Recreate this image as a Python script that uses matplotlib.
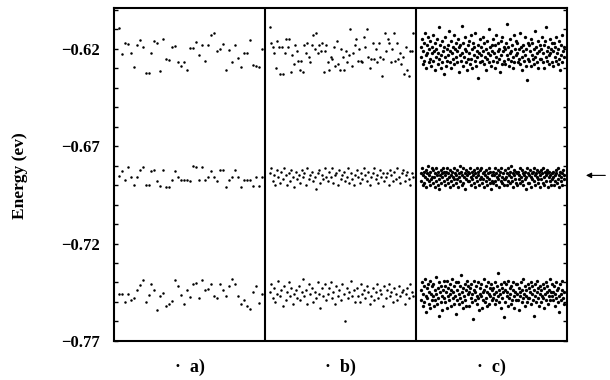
import numpy as np
import matplotlib
matplotlib.use("Agg")
import matplotlib.pyplot as plt

plt.rcParams['font.family'] = ['Liberation Serif', 'DejaVu Serif']
plt.rcParams['font.weight'] = 'bold'

# energies, in meV (plotted in eV)
panel_labels = ["\u00b7  a)", "\u00b7  b)", "\u00b7  c)"]
yticks = [-0.77, -0.72, -0.67, -0.62]

a_top = [-609.4, -622.6, -617.1, -617.4, -622.2, -629.1, -617.9, -615.4, -619.1, -632.5,
         -632.5, -622.2, -616.1, -617.1, -631.6, -614.9, -625.0, -625.6, -619.3, -618.5,
         -627.0, -628.7, -626.5, -630.8, -619.7, -619.7, -616.6, -623.1, -618.1, -626.2,
         -618.1, -613.0, -611.8, -621.2, -620.2, -617.6, -630.8, -620.5, -627.0, -617.9,
         -624.8, -629.4, -621.9, -621.9, -615.7, -628.2, -628.7, -629.4, -620.2]
a_mid = [-685.5, -682.5, -687.3, -680.5, -685.6, -689.7, -685.6, -682.2, -680.8, -690.1,
         -689.7, -682.5, -682.4, -687.7, -690.4, -682.4, -690.8, -690.8, -687.2, -682.5,
         -685.6, -687.3, -687.3, -687.3, -687.7, -680.3, -680.8, -687.3, -680.8, -687.3,
         -685.6, -682.5, -685.6, -687.7, -682.4, -682.4, -690.8, -687.3, -685.6, -682.4,
         -685.6, -690.8, -687.3, -687.3, -687.3, -690.4, -685.6, -690.4, -685.6]
a_bot = [-745.8, -745.8, -749.9, -745.8, -749.0, -747.8, -743.7, -741.3, -738.5, -750.2,
         -746.6, -740.6, -743.7, -754.3, -747.0, -745.4, -751.9, -751.3, -749.5, -738.9,
         -742.0, -746.6, -750.9, -743.7, -747.5, -740.6, -740.3, -747.8, -738.9, -743.7,
         -743.2, -741.0, -746.8, -748.2, -740.6, -743.7, -747.0, -742.0, -738.0, -741.0,
         -747.0, -750.9, -749.2, -752.3, -753.5, -744.7, -742.0, -750.6, -745.8]

b_top = [-609, -617, -619, -622, -630, -616, -619, -633, -619, -633, -622, -615, -619, -615,
         -632, -623, -628, -618, -621, -626, -631, -626, -632, -618, -622, -617, -624, -627,
         -618, -613, -620, -612, -622, -618, -621, -617, -632, -621, -618, -627, -631, -624,
         -625, -619, -629, -616, -628, -631, -620, -624, -631, -621, -627, -623, -610, -629,
         -622, -618, -615, -626, -620, -626, -627, -614, -619, -610, -624, -630, -625, -617,
         -625, -620, -627, -617, -624, -634, -625, -612, -621, -615, -617, -627, -620, -612,
         -626, -617, -625, -622, -628, -624, -633, -619, -631, -634, -621, -621, -612]
b_mid = [-684, -681, -688, -685, -690, -682, -686, -689, -683, -687, -681, -685, -690, -684,
         -688, -682, -686, -691, -683, -687, -685, -689, -682, -686, -684, -690, -681, -687,
         -685, -683, -688, -686, -692, -684, -682, -689, -685, -687, -681, -686, -688, -683,
         -686, -681, -689, -685, -684, -690, -682, -687, -685, -683, -688, -686, -681, -689,
         -684, -687, -690, -685, -682, -686, -689, -684, -687, -681, -685, -688, -683, -690,
         -686, -684, -681, -687, -685, -689, -682, -686, -684, -688, -686, -684, -690, -682,
         -685, -688, -683, -687, -681, -686, -689, -684, -682, -688, -685, -683, -687, -690,
         -684, -686]
b_bot = [-745, -741, -748, -743, -750, -746, -739, -747, -744, -752, -742, -749, -745, -740,
         -747, -743, -751, -746, -744, -748, -742, -749, -745, -738, -747, -744, -751, -741,
         -746, -743, -750, -745, -748, -740, -746, -753, -743, -747, -741, -749, -746, -743,
         -740, -748, -745, -751, -742, -747, -744, -749, -741, -746, -760, -743, -748, -745,
         -739, -747, -744, -750, -743, -747, -750, -741, -746, -744, -748, -742, -745, -751,
         -747, -743, -749, -745, -741, -748, -744, -746, -752, -742, -748, -744, -741, -747,
         -745, -750, -743, -746, -749, -742, -747, -745, -744, -751, -746, -743, -748, -741,
         -745, -747]

c_top = [-619, -624, -615, -628, -621, -617, -626, -612, -623, -630, -618, -622, -614, -627, -620, -625, -616, -629, -622, -619,
         -613, -626, -621, -631, -617, -624, -620, -615, -628, -622, -609, -625, -618, -630, -623, -616, -627, -621, -633, -619,
         -624, -614, -629, -620, -626, -618, -623, -611, -627, -621, -616, -630, -622, -619, -625, -613, -628, -620, -624, -617,
         -621, -627, -615, -632, -619, -623, -618, -626, -608, -622, -629, -617, -624, -620, -614, -627, -621, -631, -618, -625,
         -616, -622, -628, -613, -625, -620, -630, -617, -623, -619, -626, -612, -629, -621, -624, -635, -618, -622, -615, -627,
         -623, -619, -626, -614, -621, -628, -617, -624, -620, -631, -616, -625, -622, -610, -627, -619, -623, -629, -618, -621,
         -626, -615, -622, -630, -618, -624, -613, -627, -621, -617, -625, -620, -632, -616, -623, -628, -614, -621, -626, -619,
         -620, -628, -617, -623, -607, -625, -619, -629, -622, -615, -626, -621, -618, -630, -624, -613, -627, -620, -623, -616,
         -622, -617, -627, -620, -625, -612, -628, -619, -624, -631, -618, -621, -626, -614, -623, -629, -620, -636, -617, -625,
         -618, -626, -621, -615, -629, -623, -617, -625, -620, -628, -611, -624, -619, -627, -622, -616, -630, -621, -625, -618,
         -625, -620, -614, -627, -622, -618, -630, -616, -624, -609, -621, -626, -619, -623, -628, -615, -622, -620, -627, -617,
         -621, -629, -617, -624, -619, -626, -614, -622, -628, -620, -625, -616, -631, -618, -623, -613, -627, -621, -624, -619]
c_mid = [-684, -688, -681, -690, -685, -683, -689, -686, -682, -691, -687, -684, -680, -688, -685, -690, -683, -687, -681, -686,
         -689, -682, -686, -691, -684, -688, -681, -685, -690, -683, -687, -692, -685, -682, -689, -684, -686, -681, -688, -683,
         -685, -690, -683, -687, -681, -689, -684, -686, -691, -682, -688, -685, -683, -690, -686, -681, -687, -684, -689, -685,
         -682, -687, -691, -684, -686, -680, -688, -683, -690, -685, -681, -689, -686, -684, -692, -687, -682, -685, -688, -683,
         -688, -684, -681, -686, -690, -683, -687, -685, -682, -689, -684, -691, -686, -681, -688, -683, -685, -690, -687, -682,
         -686, -681, -689, -684, -687, -691, -683, -685, -688, -682, -690, -686, -684, -681, -687, -689, -683, -692, -685, -688,
         -683, -689, -685, -681, -688, -684, -690, -686, -682, -687, -685, -691, -683, -688, -681, -686, -689, -684, -687, -690,
         -687, -682, -686, -690, -684, -688, -681, -685, -689, -683, -686, -680, -688, -684, -691, -685, -682, -687, -683, -689,
         -684, -690, -683, -687, -685, -681, -689, -686, -682, -688, -684, -690, -685, -683, -687, -692, -686, -681, -689, -684,
         -689, -685, -682, -686, -691, -684, -687, -683, -688, -681, -685, -690, -684, -686, -682, -689, -687, -683, -691, -685,
         -682, -687, -684, -689, -681, -686, -690, -683, -685, -688, -684, -682, -691, -686, -683, -688, -685, -690, -684, -687,
         -686, -683, -690, -685, -688, -682, -684, -689, -681, -687, -685, -691, -683, -686, -688, -684, -690, -682, -687, -685]
c_bot = [-744, -749, -740, -752, -746, -742, -750, -738, -747, -755, -743, -748, -741, -751, -745, -739, -753, -746, -742, -749,
         -747, -741, -752, -744, -749, -737, -746, -751, -743, -748, -740, -757, -745, -750, -742, -747, -754, -744, -739, -748,
         -742, -750, -745, -739, -753, -747, -743, -749, -741, -746, -752, -744, -738, -748, -745, -751, -742, -747, -740, -756,
         -749, -744, -740, -751, -746, -742, -748, -736, -745, -750, -743, -753, -747, -741, -749, -744, -752, -739, -746, -742,
         -745, -752, -743, -748, -741, -750, -746, -759, -744, -739, -749, -745, -742, -751, -747, -740, -748, -754, -743, -746,
         -741, -747, -753, -745, -749, -738, -744, -750, -742, -748, -745, -752, -740, -746, -751, -743, -747, -741, -749, -744,
         -748, -743, -746, -740, -751, -745, -749, -742, -747, -735, -744, -750, -746, -741, -753, -748, -743, -745, -758, -740,
         -744, -750, -741, -747, -745, -752, -739, -748, -743, -746, -751, -742, -749, -744, -740, -747, -753, -745, -741, -749,
         -746, -741, -749, -743, -754, -747, -745, -740, -750, -744, -748, -738, -746, -752, -742, -747, -744, -750, -741, -748,
         -743, -748, -745, -751, -740, -746, -742, -749, -744, -757, -747, -741, -750, -745, -739, -748, -743, -752, -746, -742,
         -750, -744, -747, -741, -748, -743, -753, -746, -740, -749, -745, -742, -751, -747, -744, -738, -749, -745, -741, -747,
         -745, -749, -742, -752, -746, -740, -748, -744, -750, -743, -747, -755, -741, -746, -749, -744, -739, -748, -745, -751]

panels = [[a_top, a_mid, a_bot], [b_top, b_mid, b_bot], [c_top, c_mid, c_bot]]
dot_size = [1.8, 1.8, 2.4]

fig = plt.figure(figsize=(6.1, 3.8), dpi=100)
ax = fig.add_axes([0.187, 0.103, 0.743, 0.876])

for i, bands in enumerate(panels):
    for vals in bands:
        x = i + np.linspace(0.03, 0.98, len(vals))
        ax.plot(x, np.array(vals) / 1000.0, 'o', color='k', ms=dot_size[i], mew=0)

ax.axvline(1, color='k', lw=1.5)
ax.axvline(2, color='k', lw=1.5)

ax.set_xlim(0, 3)
ax.set_ylim(-0.77, -0.599)
ax.set_yticks(yticks)
ax.set_yticklabels(["\u2212%.2f" % abs(v) for v in yticks])
ax.set_yticks(np.arange(-0.77, -0.599, 0.01), minor=True)
ax.tick_params(axis='y', which='both', direction='in', left=True, right=True,
               length=3, width=1, labelsize=12, pad=10)
ax.tick_params(axis='x', which='both', bottom=False, labelbottom=False)
for s in ax.spines.values():
    s.set_linewidth(1.5)

for i, lab in enumerate(panel_labels):
    ax.text(i + 0.5, -0.081, lab, transform=ax.get_xaxis_transform(),
            ha='center', va='center', fontsize=13, fontweight='bold')

fig.text(0.033, 0.537, "Energy (ev)", rotation=90, ha='center', va='center',
         fontsize=12.5, fontweight='bold')

# arrow marking the middle level
ax.annotate('', xy=(3.105, -0.685), xytext=(3.27, -0.685),
            arrowprops=dict(arrowstyle='-|>', color='k', lw=0.8, mutation_scale=8),
            annotation_clip=False)

fig.savefig("out.png", dpi=100)
